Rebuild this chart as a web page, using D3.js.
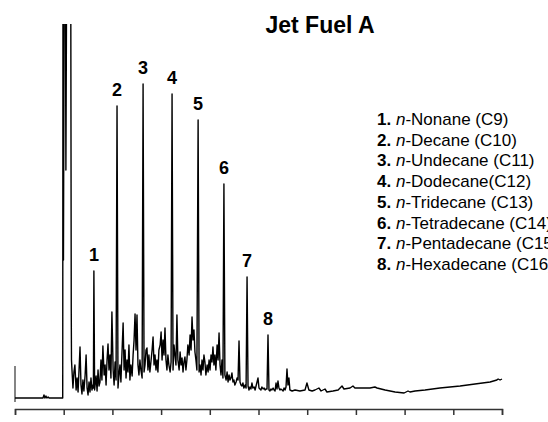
<!DOCTYPE html>
<html>
<head>
<meta charset="utf-8">
<script src="https://cdn.jsdelivr.net/npm/d3@7"></script>
<style>
  body { margin: 0; background: #fff; }
  svg { display: block; font-family: "Liberation Sans", Arial, sans-serif; }
</style>
</head>
<body>
<svg id="chart" width="548" height="422"></svg>
<script>
// n-alkane peaks: label, retention time (min), apex abundance
const peakLabels = ["1", "2", "3", "4", "5", "6", "7", "8"]
const peakTimes = [5.24, 6.19, 7.26, 8.45, 9.52, 10.58, 11.53, 12.39]
const peakHeights = [129, 294, 316, 306, 280, 216, 123, 65]
const compoundNames = ["Nonane (C9)", "Decane (C10)", "Undecane (C11)", "Dodecane(C12)",
  "Tridecane (C13)", "Tetradecane (C14)", "Pentadecane (C15)", "Hexadecane (C16)"]

const timeTicks = [2, 4, 6, 8, 10, 12, 14, 16, 18, 20, 22]

// chromatogram trace [time, abundance]
const trace = [
  [2.00,2],[2.60,2],[3.03,2],[3.15,2],[3.19,5],[3.23,2],[3.27,4],[3.31,2],[3.36,3],[3.40,2],[3.93,2],
  // solvent
  [3.96,2],[3.97,420],[3.99,140],[4.02,420],[4.07,420],[4.09,230],[4.12,420],[4.17,420],[4.29,420],
  [4.31,92],[4.32,40],
  [4.34,30],[4.38,12],[4.42,28],[4.46,35],[4.51,10],[4.55,22],[4.59,8],[4.63,30],[4.67,53],[4.71,15],
  [4.75,6],[4.79,20],[4.83,9],[4.88,25],[4.92,45],[4.96,12],[5.00,5],[5.04,18],[5.08,8],[5.12,22],
  [5.16,10],[5.20,15],[5.22,12],[5.24,129],[5.27,10],[5.33,24],[5.37,9],[5.41,30],[5.45,14],[5.49,18],
  [5.53,40],[5.57,20],[5.61,54],[5.66,25],[5.70,35],[5.74,15],[5.78,40],[5.82,56],[5.86,30],[5.90,45],
  [5.94,22],[5.98,88],[6.03,30],[6.07,15],[6.11,38],[6.15,20],[6.19,294],[6.23,12],[6.27,25],[6.31,35],
  [6.35,18],[6.39,45],[6.44,77],[6.48,30],[6.52,50],[6.56,22],[6.60,40],[6.64,28],[6.68,55],[6.72,20],
  [6.76,35],[6.81,24],[6.85,45],[6.89,60],[6.93,86],[6.97,50],[7.01,85],[7.05,35],[7.09,25],[7.13,40],
  [7.17,30],[7.22,22],[7.26,316],[7.30,28],[7.34,35],[7.38,50],[7.42,52],[7.46,30],[7.50,45],[7.54,28],
  [7.59,40],[7.63,50],[7.67,63],[7.71,35],[7.75,45],[7.79,30],[7.83,40],[7.87,28],[7.91,50],[7.96,55],
  [8.00,68],[8.04,40],[8.08,60],[8.12,45],[8.16,72],[8.20,40],[8.24,30],[8.28,45],[8.32,35],[8.37,28],
  [8.41,38],[8.45,306],[8.49,30],[8.53,55],[8.57,45],[8.61,35],[8.65,85],[8.69,40],[8.74,30],[8.78,48],
  [8.82,35],[8.86,42],[8.90,28],[8.94,38],[8.98,43],[9.02,30],[9.06,40],[9.10,55],[9.15,45],[9.19,65],
  [9.23,50],[9.27,83],[9.31,60],[9.35,70],[9.39,48],[9.43,40],[9.47,30],[9.52,280],[9.56,28],[9.60,35],
  [9.64,25],[9.68,40],[9.72,30],[9.76,45],[9.80,38],[9.84,25],[9.89,35],[9.93,28],[9.97,40],[10.01,30],
  [10.05,45],[10.09,38],[10.13,53],[10.17,35],[10.21,45],[10.25,30],[10.30,55],[10.34,40],[10.38,67],
  [10.42,35],[10.46,25],[10.50,40],[10.54,22],[10.58,216],[10.62,25],[10.67,20],[10.71,28],[10.75,18],
  [10.79,25],[10.83,20],[10.87,22],[10.91,27],[10.95,18],[10.99,20],[11.03,15],[11.08,18],[11.12,22],
  [11.16,20],[11.20,59],[11.24,18],[11.28,15],[11.32,14],[11.36,17],[11.40,12],[11.45,15],[11.49,12],
  [11.53,123],[11.57,14],[11.61,10],[11.65,13],[11.69,11],[11.73,17],[11.77,12],[11.82,13],[11.86,10],
  [11.90,14],[11.94,18],[11.98,22],[12.02,12],[12.06,11],[12.10,10],[12.14,13],[12.19,11],[12.23,12],
  [12.27,10],[12.31,11],[12.35,11],[12.39,65],[12.43,10],[12.47,9],[12.51,11],[12.55,10],[12.60,12],
  [12.64,10],[12.68,9],[12.72,17],[12.76,11],[12.80,19],[12.84,12],[12.88,10],[12.92,11],[12.97,10],
  [13.01,9],[13.05,12],[13.09,10],[13.13,13],[13.17,31],[13.21,15],[13.25,22],[13.29,10],
  [13.38,9],[13.50,10],[13.70,9],[13.91,10],[13.99,17],[14.07,10],[14.20,9],[14.32,10],[14.48,12],
  [14.57,9],[14.73,11],[14.81,8],[15.06,9],[15.27,10],[15.43,14],[15.51,11],[15.76,12],[15.88,14],
  [15.96,12],[16.17,12],[16.37,12],[16.58,12],[16.78,13],[16.87,12],[17.20,10],[17.61,8],[17.98,7],
  [18.06,8],[18.14,9],[18.22,8],[18.43,9],[18.84,10],[19.45,12],[20.28,14],[20.89,16],[21.51,18],
  [21.79,20],[21.84,21],[21.92,20],[22.00,21]
]

const svg = d3.select("#chart")

const x = d3.scaleLinear().domain([2, 22]).range([15, 502])
const y = d3.scaleLinear().domain([0, 376]).range([400, 24])

svg.append("defs").append("clipPath")
  .attr("id", "plotClip")
  .append("rect")
  .attr("x", 0).attr("y", 24)
  .attr("width", 548).attr("height", 398)

// title
svg.append("text")
  .attr("x", 320)
  .attr("y", 33)
  .attr("text-anchor", "middle")
  .style("font-weight", "bold")
  .style("font-size", "23px")
  .text("Jet Fuel A")

// x axis (labels fall mostly below the frame)
const xAxis = svg.append("g")
  .attr("transform", "translate(0, 409)")
  .call(d3.axisBottom(x)
    .tickValues(timeTicks)
    .tickFormat(d3.format(".2f"))
    .tickSize(6)
    .tickSizeOuter(6)
    .tickPadding(9))
xAxis.selectAll("path, line").attr("stroke", "#333").attr("stroke-width", 1.5)
xAxis.selectAll("text").attr("fill", "#888").style("font-size", "12px")

svg.append("text")
  .attr("x", 522)
  .attr("y", 433)
  .attr("fill", "#888")
  .style("font-size", "12px")
  .text("Time-->")

// short stub of the abundance axis
svg.append("line")
  .attr("x1", x(2)).attr("x2", x(2))
  .attr("y1", y(-2)).attr("y2", y(34))
  .attr("stroke", "#333")
  .attr("stroke-width", 1.2)

// trace
const line = d3.line()
  .x(d => x(d[0]))
  .y(d => y(d[1]))

svg.append("path")
  .datum(trace)
  .attr("clip-path", "url(#plotClip)")
  .attr("d", line)
  .attr("fill", "none")
  .attr("stroke", "#000")
  .attr("stroke-width", 1.4)
  .attr("stroke-linejoin", "round")

// peak numbers
svg.selectAll(".peakLabel")
  .data(peakLabels)
  .enter()
  .append("text")
  .attr("class", "peakLabel")
  .attr("x", (d, i) => x(peakTimes[i]))
  .attr("y", (d, i) => y(peakHeights[i]) - 10)
  .attr("text-anchor", "middle")
  .style("font-weight", "bold")
  .style("font-size", "18px")
  .text(d => d)

// legend
const legend = svg.append("g")
  .attr("transform", "translate(377, 125)")

const rows = legend.selectAll(".legendRow")
  .data(peakLabels)
  .enter()
  .append("text")
  .attr("class", "legendRow")
  .attr("x", 0)
  .attr("y", (d, i) => i * 20.7)
  .style("font-size", "17px")

rows.append("tspan").style("font-weight", "bold").text(d => d + ".")
rows.append("tspan").text(" ")
rows.append("tspan").style("font-style", "italic").text("n")
rows.append("tspan").text((d, i) => "-" + compoundNames[i])
</script>
</body>
</html>
